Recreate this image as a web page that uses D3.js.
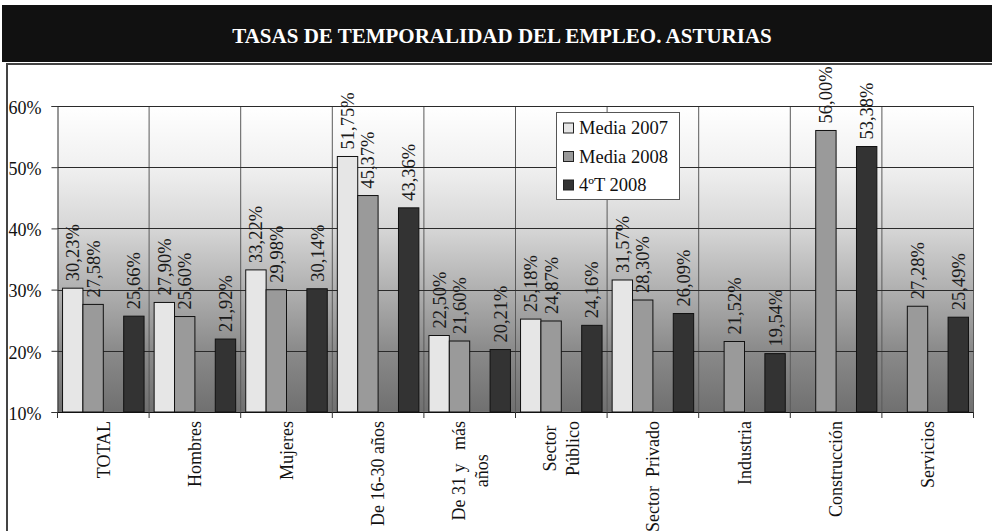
<!DOCTYPE html>
<html>
<head>
<meta charset="utf-8">
<script src="https://cdn.jsdelivr.net/npm/d3@7"></script>
<style>
  html, body { margin: 0; padding: 0; background: #fff; }
  svg { display: block; }
  text { font-family: "Liberation Serif", "Times New Roman", serif; }
</style>
</head>
<body>
<svg id="chart" width="992" height="531"></svg>
<script>
// ---- Data ----
const title = "TASAS DE TEMPORALIDAD DEL EMPLEO. ASTURIAS";
const categories = ["TOTAL", "Hombres", "Mujeres", "De 16-30 años", "De 31 y   más\naños",
  "Sector\nPúblico", "Sector  Privado", "Industria", "Construcción", "Servicios"];
const seriesNames = ["Media 2007", "Media 2008", "4ºT 2008"];
const media2007 = [30.23, 27.90, 33.22, 51.75, 22.50, 25.18, 31.57, null, null, null];
const media2008 = [27.58, 25.60, 29.98, 45.37, 21.60, 24.87, 28.30, 21.52, 56.00, 27.28];
const t4_2008   = [25.66, 21.92, 30.14, 43.36, 20.21, 24.16, 26.09, 19.54, 53.38, 25.49];
const slots = ["Media 2007", "Media 2008", "(vacío)", "4ºT 2008"];
const yTicks = [10, 20, 30, 40, 50, 60];
const seriesValues = [media2007, media2008, t4_2008];
const colors = {"Media 2007": "#e6e6e6", "Media 2008": "#9a9a9a", "4ºT 2008": "#333333"};

// ---- Layout ----
const svg = d3.select("#chart");
const W = 992, H = 531;
const plot = {left: 57.5, right: 973.5, top: 106, bottom: 412};

// Title band
svg.append("rect").attr("x", 2).attr("y", 5).attr("width", W - 2).attr("height", 57).attr("fill", "#111");
svg.append("text").attr("x", 502).attr("y", 36).attr("text-anchor", "middle")
  .attr("dominant-baseline", "central").attr("fill", "#fff")
  .attr("font-size", 21).attr("font-weight", "bold").text(title);

// Frame
svg.append("line").attr("x1", 6).attr("x2", W).attr("y1", 64).attr("y2", 64).attr("stroke", "#444").attr("stroke-width", 2);
svg.append("line").attr("x1", 7).attr("x2", 7).attr("y1", 63).attr("y2", H).attr("stroke", "#444").attr("stroke-width", 2);

// Scales
const x0 = d3.scaleBand().domain(categories).range([plot.left, plot.right]).paddingInner(0).paddingOuter(0);
const bw = x0.bandwidth();
const gap = bw * 0.11;
const x1 = d3.scaleBand().domain(slots).range([gap / 2, bw - gap / 2]).padding(0);
const y = d3.scaleLinear().domain([10, 60]).range([plot.bottom, plot.top]);

// Gradient background
const defs = svg.append("defs");
const grad = defs.append("linearGradient").attr("id", "bg").attr("x1", 0).attr("x2", 0).attr("y1", 0).attr("y2", 1);
[[0, "#ffffff"], [0.2, "#f0f0f0"], [0.4, "#d6d6d6"], [0.6, "#b0b0b0"], [0.8, "#8a8a8a"], [1, "#707070"]]
  .forEach(([o, c]) => grad.append("stop").attr("offset", o).attr("stop-color", c));
svg.append("rect").attr("x", plot.left).attr("y", plot.top)
  .attr("width", plot.right - plot.left).attr("height", plot.bottom - plot.top).attr("fill", "url(#bg)");

// Gridlines
const gGrid = svg.append("g");
gGrid.selectAll("line.v").data(categories.slice(1).concat(["__end"])).join("line")
  .attr("x1", d => d === "__end" ? plot.right : x0(d)).attr("x2", d => d === "__end" ? plot.right : x0(d))
  .attr("y1", plot.top).attr("y2", plot.bottom).attr("stroke", "#5a5a5a").attr("stroke-width", 1);
gGrid.selectAll("line.h").data(yTicks.slice(1)).join("line")
  .attr("x1", plot.left).attr("x2", plot.right).attr("y1", d => Math.round(y(d)) + 0.5).attr("y2", d => Math.round(y(d)) + 0.5)
  .attr("stroke", "#2a2a2a").attr("stroke-width", 1);

// Bars
const barData = [];
categories.forEach((c, i) => {
  seriesNames.forEach((s, j) => {
    const v = seriesValues[j][i];
    if (v != null) barData.push({cat: c, series: s, value: v});
  });
});
const gBars = svg.append("g");
gBars.selectAll("rect").data(barData).join("rect")
  .attr("x", d => x0(d.cat) + x1(d.series))
  .attr("width", x1.bandwidth())
  .attr("y", d => y(d.value))
  .attr("height", d => y(10) - y(d.value))
  .attr("fill", d => colors[d.series])
  .attr("stroke", "#111").attr("stroke-width", 1);

// Axes
const yAxis = d3.axisLeft(y).tickValues(yTicks).tickSize(6).tickFormat(d => d + "%");
const gy = svg.append("g").attr("transform", `translate(${plot.left},0)`).call(yAxis);
gy.select(".domain").attr("stroke", "#333");
gy.selectAll(".tick line").attr("stroke", "#333");
gy.selectAll(".tick text").attr("font-size", 18).attr("font-family", "Liberation Serif")
  .attr("fill", "#111").attr("x", -16).attr("dy", "0.4em");

const xAxis = d3.axisBottom(x0).tickSize(0).tickFormat("");
const gx = svg.append("g").attr("transform", `translate(0,${plot.bottom})`).call(xAxis);
gx.select(".domain").attr("stroke", "#111");
// boundary ticks
svg.append("g").selectAll("line").data(d3.range(categories.length + 1)).join("line")
  .attr("x1", i => plot.left + i * bw).attr("x2", i => plot.left + i * bw)
  .attr("y1", plot.bottom).attr("y2", plot.bottom + 6).attr("stroke", "#333");

// Category labels (rotated)
const gCat = svg.append("g");
categories.forEach(c => {
  const lines = c.split("\n");
  const cx = x0(c) + bw / 2;
  const n = lines.length;
  const lineGap = 23;
  const texts = lines.map((ln, k) => {
    const lx = cx + (k - (n - 1) / 2) * lineGap;
    return gCat.append("text")
      .attr("transform", `translate(${lx},0) rotate(-90)`)
      .attr("dy", "0.35em")
      .attr("font-size", 18).attr("fill", "#111")
      .style("white-space", "pre")
      .text(ln);
  });
  const lens = texts.map(t => t.node().getComputedTextLength());
  const maxLen = d3.max(lens);
  const top = 421;
  texts.forEach(t => {
    t.attr("text-anchor", "middle").attr("x", -(top + maxLen / 2));
  });
});

// Data labels
const fmt = v => v.toFixed(2).replace(".", ",") + "%";
svg.append("g").selectAll("text").data(barData).join("text")
  .attr("transform", d => `translate(${x0(d.cat) + x1(d.series) + x1.bandwidth() / 2},${y(d.value) - 7}) rotate(-90)`)
  .attr("dy", "0.35em")
  .attr("font-size", 18.5).attr("fill", "#1a1a1a")
  .text(d => fmt(d.value));

// Legend
const lg = svg.append("g");
lg.append("rect").attr("x", 556.5).attr("y", 112.5).attr("width", 123).attr("height", 87)
  .attr("fill", "#fff").attr("stroke", "#555").attr("stroke-width", 1);
seriesNames.forEach((s, i) => {
  const cy = 128 + i * 28.5;
  lg.append("rect").attr("x", 563.5).attr("y", cy - 5).attr("width", 10).attr("height", 10)
    .attr("fill", colors[s]).attr("stroke", "#222");
  lg.append("text").attr("x", 579).attr("y", cy).attr("dominant-baseline", "central")
    .attr("font-size", 18.5).attr("fill", "#111").text(s);
});
</script>
</body>
</html>
